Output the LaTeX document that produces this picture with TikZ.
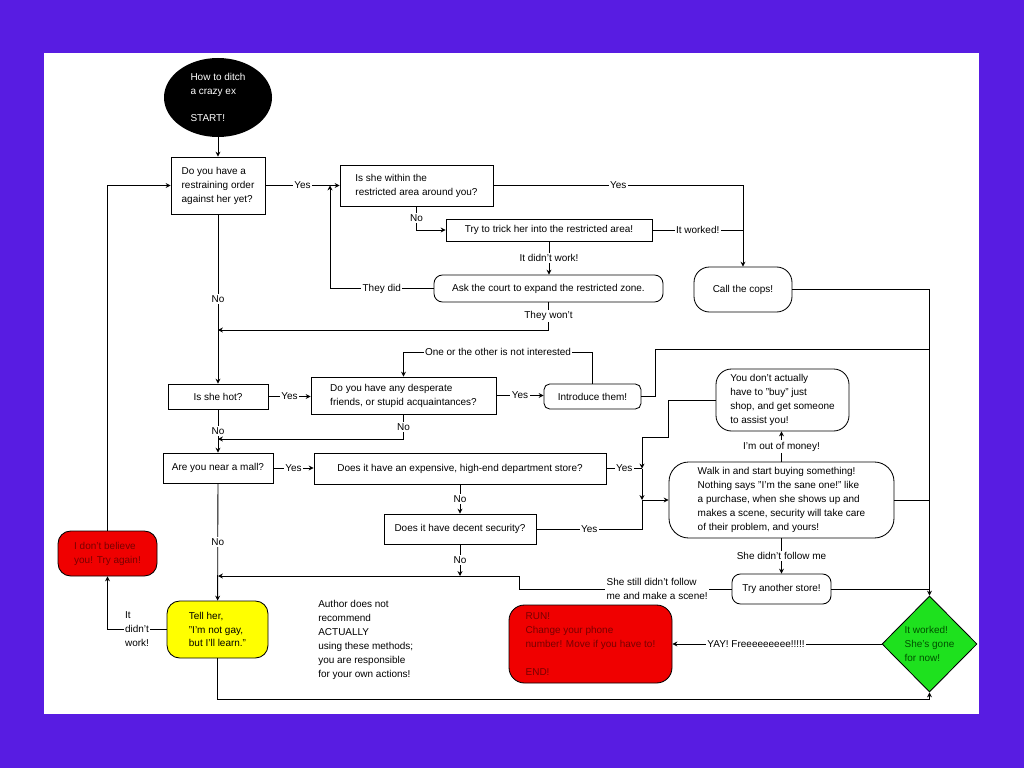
\documentclass[tikz,border=0pt]{standalone}
\usepackage{fontspec}
\setmainfont{Liberation Sans}
\usepackage{xcolor}
\usetikzlibrary{shapes.geometric,arrows.meta}

\definecolor{bgpurple}{RGB}{88,28,226}
\definecolor{boxred}{RGB}{240,0,0}
\definecolor{textred}{RGB}{120,0,0}
\definecolor{boxyellow}{RGB}{255,255,0}
\definecolor{boxgreen}{RGB}{30,225,30}
\definecolor{textgreen}{RGB}{0,80,0}

\newdimen\px \px=0.025cm
\newcommand{\flowfont}{\fontsize{7.1}{9.9}\selectfont}

\tikzset{
	wh/.style 2 args={minimum width=#1\px, minimum height=#2\px},
	box/.style={draw, line width=0.6pt, fill=white, align=left, inner sep=0pt, font=\flowfont},
	roundbox/.style={box, rounded corners=#1},
	roundbox/.default=6pt,
	lbl/.style={fill=white, inner sep=1pt, font=\flowfont},
	ln/.style={line width=0.6pt},
	arr/.style={line width=0.6pt, -{Stealth[length=3.5pt,width=3.5pt]}},
}

\begin{document}
\begin{tikzpicture}[x=0.025cm, y=-0.025cm]
		% 背景
		\useasboundingbox (0,0) rectangle (1024,768);
		\fill[bgpurple] (0,0) rectangle (1024,768);
		\fill[white] (44,53) rectangle (979,714);
		
		% 节点
		\node[ellipse, fill=black, text=white, align=left, font=\flowfont, inner sep=0pt, wh={108}{79}] (start) at (218,97.5) {How to ditch\\a crazy ex\\[9.9pt]START!};
		\node[box, wh={94}{57}] (q1) at (218,185.5) {Do you have a\\restraining order\\against her yet?};
		\node[box, wh={153}{41}] (q2) at (416.5,185.5) {Is she within the\\restricted area around you?};
		\node[box, wh={206}{22}] (trick) at (549,230) {Try to trick her into the restricted area!};
		\node[roundbox, wh={229}{27}] (court) at (548.5,288.5) {Ask the court to expand the restricted zone.};
		\node[roundbox=11pt, wh={98}{45}] (cops) at (743,289.5) {Call the cops!};
		\node[box, wh={100}{25}] (hot) at (218,396.5) {Is she hot?};
		\node[box, wh={185}{37}] (friends) at (403.5,395.5) {Do you have any desperate\\friends, or stupid acquaintances?};
		\node[roundbox=4pt, wh={97}{25}] (introduce) at (592.5,396.5) {Introduce them!};
		\node[roundbox=11pt, wh={133}{62}] (dontbuy) at (782.5,400) {You don't actually\\have to "buy" just\\shop, and get someone\\to assist you!};
		\node[box, wh={110}{30}] (mall) at (218,468) {Are you near a mall?};
		\node[box, wh={292}{31}] (store) at (460,468.5) {Does it have an expensive, high-end department store?};
		\node[box, wh={152}{30}] (security) at (460,529) {Does it have decent security?};
		\node[roundbox=14pt, wh={225}{76}] (walkin) at (781.5,500) {Walk in and start buying something!\\Nothing says "I'm the sane one!" like\\a purchase, when she shows up and\\makes a scene, security will take care\\of their problem, and yours!};
		\node[roundbox, wh={99}{30}] (another) at (781.5,589) {Try another store!};
		\node[roundbox=9pt, fill=boxred, text=textred, wh={99}{45}] (believe) at (107.5,553.5) {I don't believe\\you! Try again!};
		\node[roundbox=9pt, fill=boxyellow, wh={101}{57}] (tellher) at (217.5,629.5) {Tell her,\\"I'm not gay,\\but I'll learn."};
		\node[font=\flowfont, align=left, anchor=west, inner sep=0pt] (note) at (318,640) {Author does not\\recommend\\ACTUALLY\\using these methods;\\you are responsible\\for your own actions!};
		\node[roundbox=11pt, fill=boxred, text=textred, wh={163}{78}] (run) at (590.5,644) {RUN!\\Change your phone\\number! Move if you have to!\\[9.9pt]END!};
		\node[diamond, draw, line width=0.6pt, fill=boxgreen, text=textgreen, align=left, font=\flowfont, inner sep=0pt, wh={95}{96}] (diamond) at (929.5,644) {It worked!\\She's gone\\for now!};
		
		% 拐点
		\coordinate (loopx) at (330,288.5);
		\coordinate (j1) at (218,330);
		\coordinate (k1) at (403.5,352);
		\coordinate (r1) at (655,349);
		\coordinate (j2) at (218,439);
		\coordinate (d1) at (668,437);
		\coordinate (m1) at (642,468.5);
		\coordinate (m2) at (642,500);
		\coordinate (s1) at (519,576);
		\coordinate (j3) at (218,576);
		\coordinate (b1) at (929.5,699);
		
		% 连线
		\draw[arr] (start) -- (q1);
		\draw[arr] (q1.east) -- node[lbl]{Yes} (q2.west);
		\draw[arr] (q2.east) -| node[lbl,pos=0.25]{Yes} (cops.north);
		\draw[arr] (q2.south) |- node[lbl,pos=0.25]{No} (trick.west);
		\draw[ln] (trick.east) -- node[lbl]{It worked!} (trick.east -| cops);
		\draw[arr] (trick.south) -- node[lbl]{It didn't work!} (trick.south |- court.north);
		\draw[arr] (court.west) -- node[lbl]{They did} (loopx) -- (loopx |- q2.west);
		\draw[arr] (court.south) |- node[lbl,pos=0.25]{They won't} (j1);
		\draw[arr] (q1) -- node[lbl]{No} (hot);
		\draw[arr] (hot.east) -- node[lbl]{Yes} (hot.east -| friends.west);
		\draw[arr] (friends.east) -- node[lbl]{Yes} (friends.east -| introduce.west);
		\draw[arr] (introduce.north) |- node[lbl,pos=0.75]{One or the other is not interested} (k1) -- (friends.north);
		\draw[arr] (cops.east) -| (diamond.north);
		\draw[ln] (introduce.east) -| (r1) -- (r1 -| diamond);
		\draw[arr] (hot) -- node[lbl]{No} (mall);
		\draw[arr] (friends.south) |- node[lbl,pos=0.25]{No} (j2);
		\draw[arr] (mall.east) -- node[lbl]{Yes} (mall.east -| store.west);
		\draw[arr] (store.south) -- node[lbl]{No} (security.north);
		\draw[ln] (store.east) -- node[lbl]{Yes} (m1);
		\draw[arr] (dontbuy.west) -| (d1) -| (m1);
		\draw[arr] (m1) -- (m2);
		\draw[arr] (m2) -- (walkin.west);
		\draw[ln] (security.east) -| node[lbl,pos=0.25]{Yes} (m2);
		\draw[arr] (walkin.north) -- node[lbl]{I'm out of money!} (walkin.north |- dontbuy.south);
		\draw[arr] (walkin.south) -- node[lbl]{She didn't follow me} (another.north);
		\draw[ln] (walkin.east) -- (walkin.east -| diamond);
		\draw[ln] (another.east) -- (another.east -| diamond);
		\draw[arr] (another.west) -- node[lbl,pos=0.35,align=left]{She still didn't follow\\me and make a scene!} (another.west -| s1) |- (j3);
		\draw[arr] (security.south) -- node[lbl]{No} (security.south |- j3);
		\draw[arr] (mall) -- node[lbl]{No} (tellher);
		\draw[arr] (tellher.west) -| node[lbl,pos=0.25,align=left]{It\\didn't\\work!} (believe.south);
		\draw[arr] (believe.north) |- (q1.west);
		\draw[arr] (tellher.south) |- (b1) -- (diamond.south);
		\draw[arr] (diamond.west) -- node[lbl,pos=0.6]{YAY! Freeeeeeeee!!!!!} (run.east);
	\end{tikzpicture}
\end{document}
